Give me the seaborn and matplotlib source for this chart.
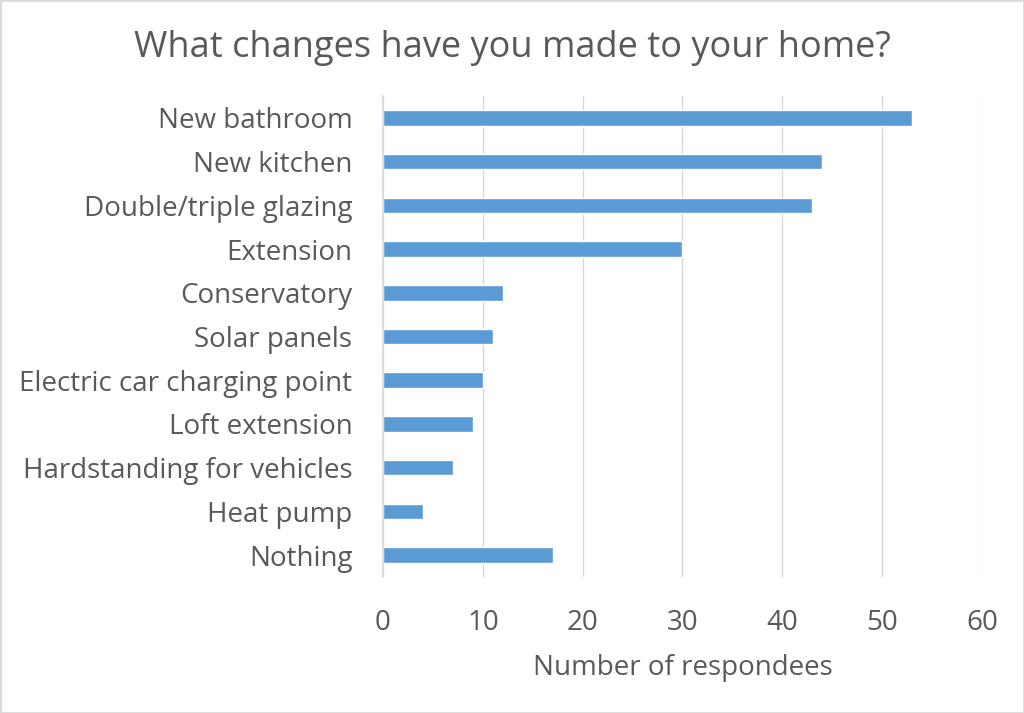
import pandas as pd
import seaborn as sns
import matplotlib.pyplot as plt
from matplotlib.patches import Rectangle

categories = [
    "New bathroom",
    "New kitchen",
    "Double/triple glazing",
    "Extension",
    "Conservatory",
    "Solar panels",
    "Electric car charging point",
    "Loft extension",
    "Hardstanding for vehicles",
    "Heat pump",
    "Nothing",
]
respondees = [53, 44, 43, 30, 12, 11, 10, 9, 7, 4, 17]
x_ticks = [0, 10, 20, 30, 40, 50, 60]

df = pd.DataFrame({"change": categories, "count": respondees})

text_col = "#595959"
grid_col = "#D9D9D9"

sns.set_theme(style="white")
plt.rcParams["font.family"] = ["Open Sans", "DejaVu Sans"]

fig = plt.figure(figsize=(10.24, 7.13), dpi=100)
ax = fig.add_axes([0.374, 0.1907, 0.585, 0.6747])

sns.barplot(data=df, x="count", y="change", color="#5B9BD5", width=0.355,
            saturation=1, ax=ax, zorder=3)

ax.set_xlim(0, 60)
ax.set_xticks(x_ticks)
ax.set_ylim(len(categories) - 0.5, -0.5)
ax.grid(axis="x", color=grid_col, linewidth=1, zorder=0)
ax.grid(axis="y", visible=False)
for s in ["top", "right", "bottom"]:
    ax.spines[s].set_visible(False)
ax.spines["left"].set_color(grid_col)
ax.spines["left"].set_zorder(4)
ax.tick_params(axis="both", length=0, labelsize=20, colors=text_col)
ax.tick_params(axis="x", pad=23)
ax.tick_params(axis="y", pad=22)

ax.set_ylabel("")
ax.set_xlabel("Number of respondees", fontsize=20, color=text_col, labelpad=12)
fig.suptitle("What changes have you made to your home?", fontsize=26,
             color=text_col, x=0.5, y=0.958)

fig.patches.append(Rectangle((0, 0), 1, 1, transform=fig.transFigure,
                             fill=False, edgecolor=grid_col, linewidth=2))

fig.savefig("out.png", dpi=100)
